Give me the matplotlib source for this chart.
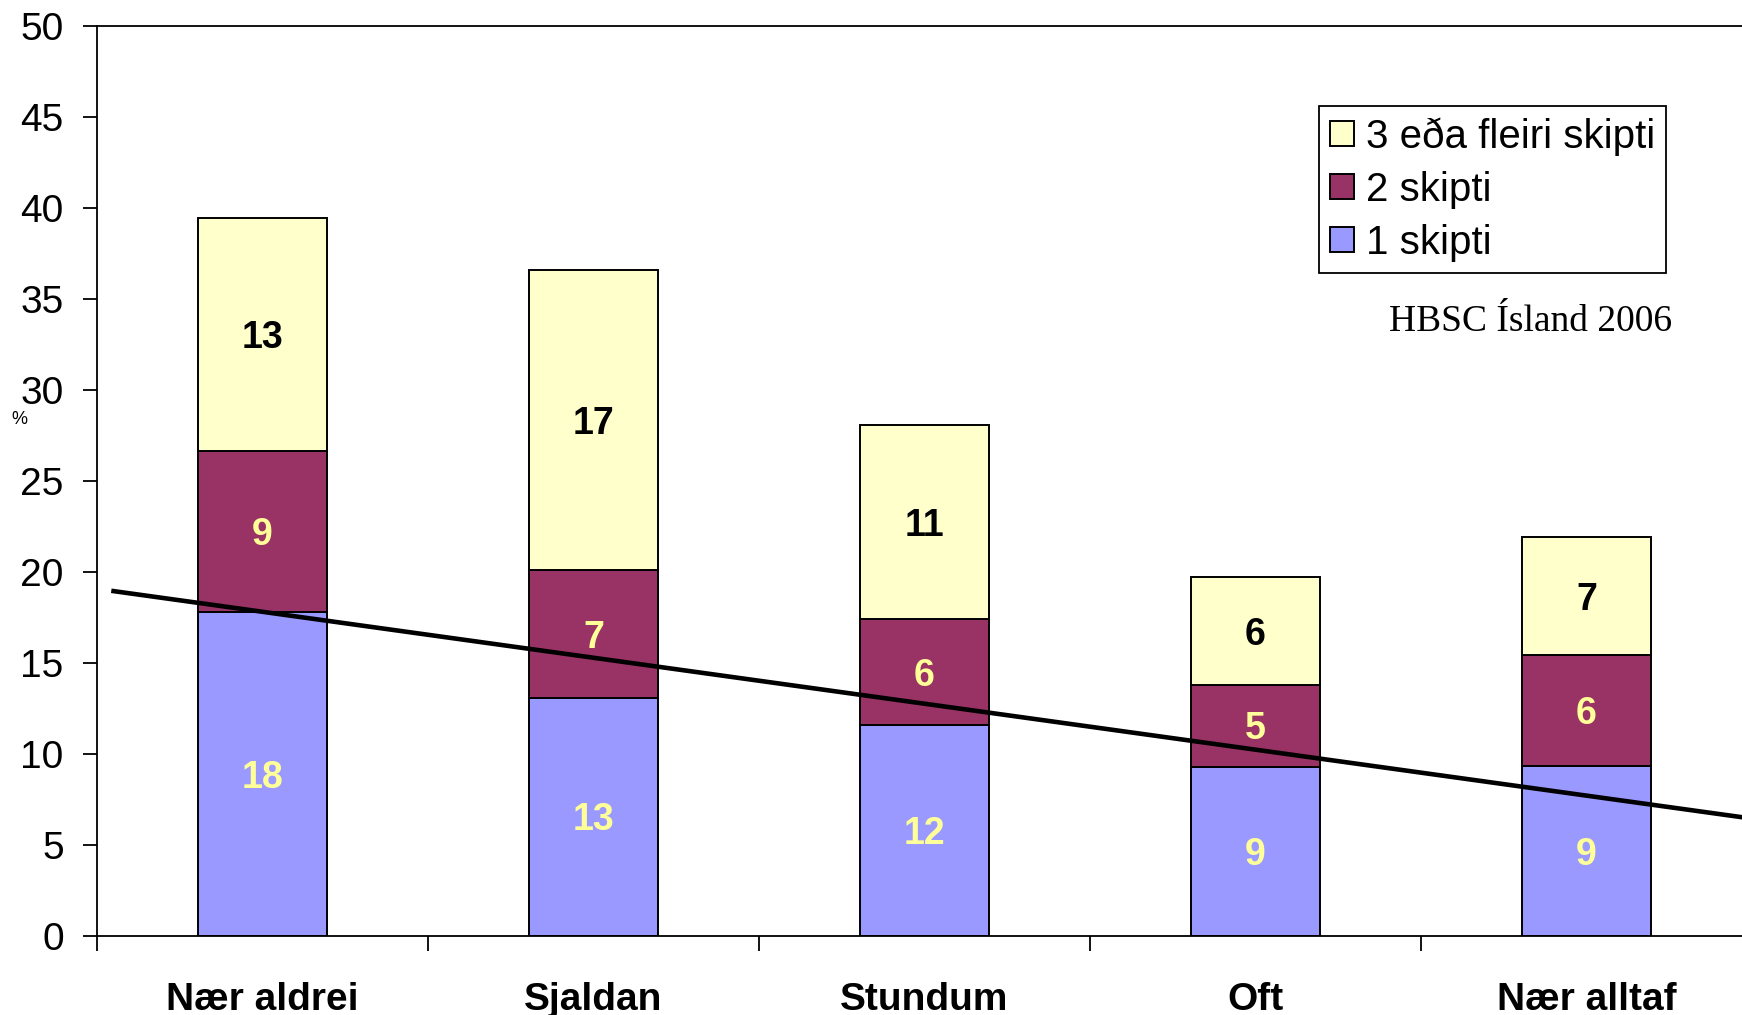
import matplotlib.pyplot as plt
import numpy as np

# data
categories = ["Nær aldrei", "Sjaldan", "Stundum", "Oft", "Nær alltaf"]
one_shift = [17.8, 13.1, 11.6, 9.3, 9.35]
two_shift = [8.85, 7.0, 5.8, 4.5, 6.1]
three_plus = [12.8, 16.5, 10.7, 5.9, 6.45]
labels_one = ["18", "13", "12", "9", "9"]
labels_two = ["9", "7", "6", "5", "6"]
labels_three = ["13", "17", "11", "6", "7"]
series_names = ["1 skipti", "2 skipti", "3 eða fleiri skipti"]

# trend line endpoints (category units, %)
trend_x = [-0.45, 4.5]
trend_y = [18.95, 6.45]

plt.rcParams['font.family'] = ['Liberation Sans', 'DejaVu Sans']

fig = plt.figure(figsize=(17.42, 10.15), dpi=100)
ax = fig.add_axes([97 / 1742, 79 / 1015, 1655 / 1742, 910 / 1015])

x = np.arange(len(categories))
w = 0.39
blue = "#9999FF"
purple = "#993366"
yellow = "#FFFFCC"
txt_light = "#FFFF99"

b1 = ax.bar(x, one_shift, w, color=blue, edgecolor="black", linewidth=1.4, label=series_names[0])
bottom2 = np.array(one_shift)
b2 = ax.bar(x, two_shift, w, bottom=bottom2, color=purple, edgecolor="black", linewidth=1.4, label=series_names[1])
bottom3 = bottom2 + np.array(two_shift)
b3 = ax.bar(x, three_plus, w, bottom=bottom3, color=yellow, edgecolor="black", linewidth=1.4, label=series_names[2])

# labels in the middle of each segment
for i in range(len(categories)):
    ax.text(x[i], one_shift[i] / 2 - 0.2, labels_one[i], ha="center", va="center",
            fontsize=27, fontweight="bold", color=txt_light)
    ax.text(x[i], bottom2[i] + two_shift[i] / 2 - 0.2, labels_two[i], ha="center", va="center",
            fontsize=27, fontweight="bold", color=txt_light)
    ax.text(x[i], bottom3[i] + three_plus[i] / 2 - 0.2, labels_three[i], ha="center", va="center",
            fontsize=27, fontweight="bold", color="black")

ax.plot(trend_x, trend_y, color="black", linewidth=3.3, clip_on=False)

ax.set_xlim(-0.5, 4.5)
ax.set_ylim(0, 50)
ax.set_yticks(np.arange(0, 51, 5))
ax.tick_params(axis="y", labelsize=28, length=10, width=1.3, pad=14, direction="out")

# boundary ticks without labels, category names on minor ticks
ax.set_xticks(np.arange(-0.5, 5, 1))
ax.set_xticklabels([])
ax.set_xticks(x, minor=True)
ax.set_xticklabels(categories, minor=True, fontsize=28, fontweight="bold")
ax.tick_params(axis="x", which="major", length=11, width=1.3, direction="out")
ax.tick_params(axis="x", which="minor", length=0, pad=33)

for s in ["left", "bottom", "top"]:
    ax.spines[s].set_linewidth(1.3)
ax.spines["right"].set_visible(False)

fig.text(19 / 1742, 1 - 419 / 1015, "%", fontsize=13, ha="center", va="center")

handles = [b3, b2, b1]
leg = ax.legend(handles, [series_names[2], series_names[1], series_names[0]],
                loc="upper left", bbox_to_anchor=(1319 / 1742, 1 - 106 / 1015),
                bbox_transform=fig.transFigure, fontsize=29, frameon=True, fancybox=False,
                edgecolor="black", framealpha=1, handlelength=0.6, handleheight=0.6,
                handletextpad=0.28, borderpad=0.28, labelspacing=0.37, borderaxespad=0)
leg.get_frame().set_linewidth(1.3)

fig.text(1389 / 1742, 1 - 322 / 1015, "HBSC Ísland 2006", fontsize=27,
         family="Liberation Serif", ha="left", va="center")

fig.savefig("out.png", dpi=100)
